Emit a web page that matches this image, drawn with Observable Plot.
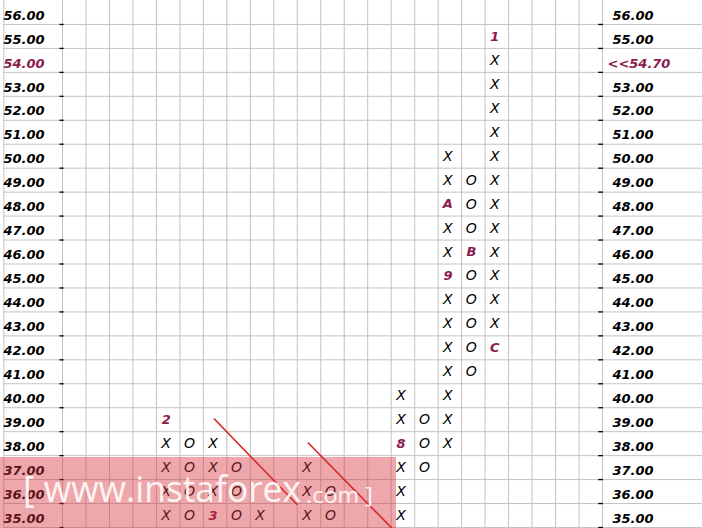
<!DOCTYPE html>
<html>
<head>
<meta charset="utf-8">
<script src="https://cdn.jsdelivr.net/npm/d3@7"></script>
<script src="https://cdn.jsdelivr.net/npm/@observablehq/plot@0.6"></script>
<style>
  body { margin: 0; background: #fff; }
  #wrap { position: relative; width: 702px; height: 528px; overflow: hidden; }
  #wrap > svg { position: absolute; left: 0; top: 0; }
  #wm { position: absolute; left: 0; top: 0; pointer-events: none; }
</style>
</head>
<body>
<div id="wrap"></div>
<script>
// ---- data ----
const priceLevels = [56,55,54,53,52,51,50,49,48,47,46,45,44,43,42,41,40,39,38,37,36,35];
const leftLabels  = ["56.00","55.00","54.00","53.00","52.00","51.00","50.00","49.00","48.00","47.00","46.00","45.00","44.00","43.00","42.00","41.00","40.00","39.00","38.00","37.00","36.00","35.00"];
const rightLabels = ["56.00","55.00","<<54.70","53.00","52.00","51.00","50.00","49.00","48.00","47.00","46.00","45.00","44.00","43.00","42.00","41.00","40.00","39.00","38.00","37.00","36.00","35.00"];
const highlightPrice = 54;

// point & figure columns
const columnIndex = [4, 5, 6, 7, 8, 10, 11, 14, 15, 16, 17, 18];
const columnType  = ["X","O","X","O","X","X","O","X","O","X","O","X"];
const columnLow   = [35, 35, 35, 35, 35, 35, 35, 35, 37, 38, 41, 42];
const columnHigh  = [39, 38, 38, 37, 35, 37, 36, 40, 39, 50, 49, 55];

// month markers replacing boxes
const markerColumn = [4, 6, 14, 16, 16, 17, 18, 18];
const markerPrice  = [39, 35, 38, 45, 48, 46, 55, 42];
const markerText   = ["2","3","8","9","A","B","1","C"];

// 45-degree trend lines
const trendStartCol   = [6.45, 10.45];
const trendStartPrice = [39.05, 38.05];
const trendEndCol     = [10.0, 14.05];
const trendEndPrice   = [35.45, 34.45];

const nColumns = 23;

// ---- derived tables ----
const boxes = [];
columnIndex.forEach((c, i) => {
  for (let v = columnLow[i]; v <= columnHigh[i]; v++) {
    const m = markerColumn.findIndex((mc, j) => mc === c && markerPrice[j] === v);
    boxes.push({col: c, price: v, text: m >= 0 ? markerText[m] : columnType[i], marker: m >= 0});
  }
});
const rowBounds = priceLevels.map(v => v - 0.5);
const colBounds = d3.range(0, nColumns + 1);
const trends = trendStartCol.map((_, i) => ({x1: trendStartCol[i], y1: trendStartPrice[i], x2: trendEndCol[i], y2: trendEndPrice[i]}));
const labelRows = priceLevels.map((v, i) => ({price: v, left: leftLabels[i], right: rightLabels[i]}));

const maroon = "#8c1c4c";
const grid = "#c3c3c3";
const fontAxis = {fontFamily: "DejaVu Sans", fontSize: 13, fontWeight: "bold", fontStyle: "italic"};

const chart = Plot.plot({
  width: 702,
  height: 528,
  marginLeft: 62,
  marginRight: 100,
  marginTop: 0,
  marginBottom: 1,
  x: {domain: [0, nColumns], axis: null},
  y: {domain: [34.5, 56.5], axis: null},
  style: {fontFamily: "DejaVu Sans", background: "white", overflow: "visible"},
  marks: [
    // grid
    Plot.ruleY(rowBounds, {y: d => d, x1: -2.5, x2: 27.4, stroke: grid, strokeWidth: 1}),
    Plot.ruleX([-2.5, ...colBounds], {x: d => d, y1: 34.5, y2: 56.6, stroke: grid, strokeWidth: 1}),
    // axis tick dashes
    Plot.ruleY(rowBounds, {y: d => d, x1: -0.11, x2: 0.07, stroke: "#000", strokeWidth: 1.3}),
    Plot.ruleY(rowBounds, {y: d => d, x1: nColumns - 0.16, x2: nColumns + 0.04, stroke: "#000", strokeWidth: 1.3}),
    // left labels
    Plot.text(labelRows.filter(d => d.price !== highlightPrice), {y: "price", text: "left", frameAnchor: "left", textAnchor: "start", dx: -59, dy: 3, fill: "#000", ...fontAxis}),
    Plot.text(labelRows.filter(d => d.price === highlightPrice), {y: "price", text: "left", frameAnchor: "left", textAnchor: "start", dx: -59, dy: 3, fill: maroon, ...fontAxis}),
    // right labels
    Plot.text(labelRows.filter(d => d.price !== highlightPrice), {y: "price", text: "right", frameAnchor: "right", textAnchor: "start", dx: 10, dy: 3, fill: "#000", ...fontAxis}),
    Plot.text(labelRows.filter(d => d.price === highlightPrice), {y: "price", text: "right", frameAnchor: "right", textAnchor: "start", dx: 5, dy: 3, fill: maroon, ...fontAxis}),
    // trend lines
    Plot.link(trends, {x1: "x1", y1: "y1", x2: "x2", y2: "y2", stroke: "#d42424", strokeWidth: 1.6}),
    // boxes
    Plot.text(boxes.filter(d => !d.marker), {x: d => d.col + 0.5, y: "price", text: "text", dx: -2, dy: 0, fill: "#000", fontFamily: "DejaVu Sans", fontSize: 14, fontStyle: "italic"}),
    Plot.text(boxes.filter(d => d.marker), {x: d => d.col + 0.5, y: "price", text: "text", dx: -2, dy: 0, fill: maroon, fontFamily: "DejaVu Sans", fontSize: 13, fontWeight: "bold", fontStyle: "italic"})
  ]
});

const wrap = document.getElementById("wrap");
wrap.appendChild(chart);

// watermark overlay
const ns = "http://www.w3.org/2000/svg";
const wm = document.createElementNS(ns, "svg");
wm.setAttribute("id", "wm");
wm.setAttribute("width", 702);
wm.setAttribute("height", 528);
wm.innerHTML = `
  <rect x="0" y="457" width="396" height="71" fill="rgba(214,48,58,0.42)"></rect>
  <text x="23" y="502" font-family="Open Sans" font-size="36" fill="rgba(255,255,255,0.9)" textLength="278" lengthAdjust="spacingAndGlyphs">[ www.instaforex</text>
  <text x="306" y="503" font-family="Open Sans" font-size="22" fill="rgba(255,255,255,0.9)" textLength="67" lengthAdjust="spacingAndGlyphs">.com ]</text>
`;
wrap.appendChild(wm);
</script>
</body>
</html>
